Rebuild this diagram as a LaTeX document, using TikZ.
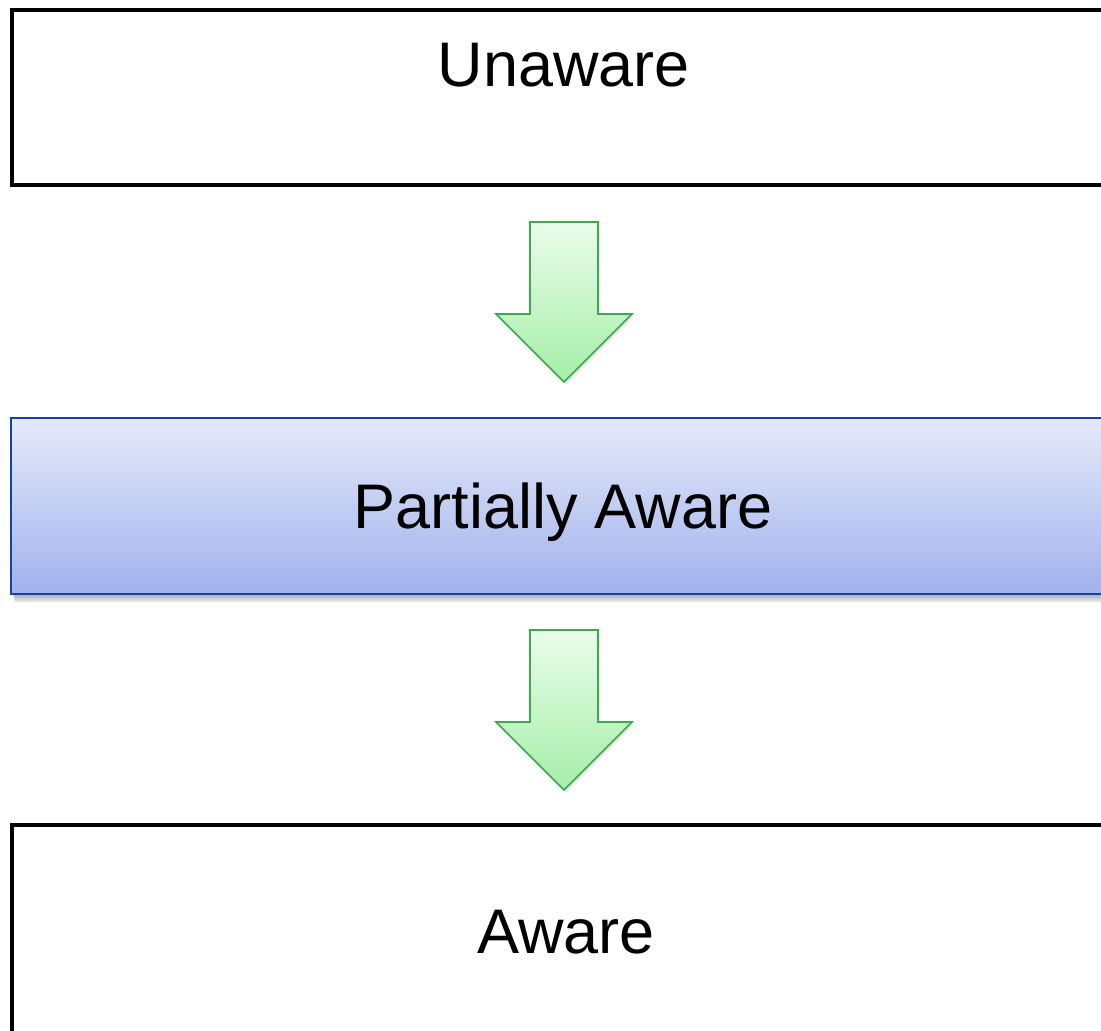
\documentclass[tikz,border=0pt]{standalone}
\usepackage{fontspec}
\setmainfont{Liberation Sans}
\usetikzlibrary{calc}
\definecolor{greentop}{HTML}{EAFCEA}
\definecolor{greenbot}{HTML}{A4EEA8}
\definecolor{greenedge}{HTML}{3BAA4C}
\definecolor{bluetop}{HTML}{E5E9F9}
\definecolor{bluebot}{HTML}{A1B2EC}
\definecolor{blueedge}{HTML}{0B47A3}
\begin{document}
\begin{tikzpicture}[x=1pt,y=-1pt,
  plainbox/.style={draw=black,line width=4pt,fill=white,rectangle,minimum width=1104pt,inner sep=0pt},
  bluebox/.style={draw=blueedge,line width=2pt,top color=bluetop,bottom color=bluebot,rectangle,minimum width=1106pt,minimum height=176pt,inner sep=0pt},
  boxtext/.style={font=\fontsize{63}{75}\selectfont,anchor=base,inner sep=0pt},
  greenarrow/.style={draw=greenedge,line width=1.6pt,top color=greentop,bottom color=greenbot,line join=miter},
  arrowshadow/.style={fill=black,opacity=0.10}]
\useasboundingbox (0,0) rectangle (1101,1031);
\clip (0,0) rectangle (1101,1031);

% top box
\node[plainbox,minimum height=175pt] (unaware) at (564,97.5) {};
\node[boxtext] (unawaretext) at (564,86) {Unaware};

% middle box with soft shadow
\foreach \d in {1,...,9}
  \fill[black,opacity=0.045] (12+\d*0.3,422) rectangle (1125,594+\d);
\node[bluebox] (partial) at (564,506) {};
\node[boxtext] (partialtext) at (563,528) {Partially Aware};

% bottom box
\node[plainbox,minimum height=300pt] (aware) at (564,975) {};
\node[boxtext] (awaretext) at (566,953) {Aware};

% arrows
\coordinate (a1) at ($(unaware.south)+(0,35)$);
\coordinate (a2) at ($(partial.south)+(0,35)$);
\foreach \c/\n in {a1/arrowone,a2/arrowtwo}{
  \fill[arrowshadow] ([shift={(1.5,2.5)}]\c) ++(-34,0) -- ++(68,0) -- ++(0,92) -- ++(34,0) -- ++(-68,68) -- ++(-68,-68) -- ++(34,0) -- cycle;
  \path[greenarrow] (\c) ++(-34,0) coordinate (\n) -- ++(68,0) -- ++(0,92) -- ++(34,0) -- ++(-68,68) -- ++(-68,-68) -- ++(34,0) -- cycle;
}
\end{tikzpicture}
\end{document}
